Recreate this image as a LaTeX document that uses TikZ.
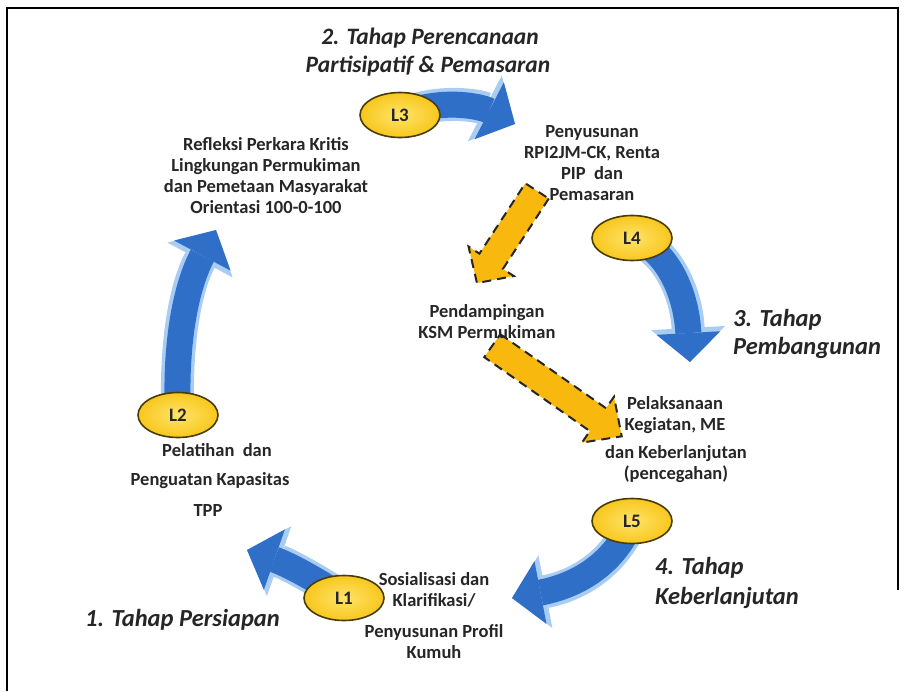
\documentclass[tikz,border=0pt]{standalone}
\usepackage{fontspec}
\setmainfont{Carlito}
\usetikzlibrary{arrows.meta,shapes.geometric}
\definecolor{bluemain}{HTML}{2F6FC8}
\definecolor{bluelight}{HTML}{A8CCF2}
\definecolor{goldfill}{HTML}{F7C71C}
\definecolor{goldin}{HTML}{FFE36A}
\definecolor{goldedge}{HTML}{4A3C05}
\definecolor{amber}{HTML}{F8B80E}
\definecolor{ink}{HTML}{262626}
\tikzset{
  lvl/.style={ellipse, minimum width=80pt, minimum height=45pt, inner sep=0pt,
    draw=goldedge, line width=1.6pt, inner color=goldin, outer color=goldfill,
    font=\bfseries\fontsize{19}{19}\selectfont, text=ink},
  lbl/.style={font=\bfseries\fontsize{18.5}{21}\selectfont, text=ink, align=center, inner sep=0pt},
  stage/.style={font=\bfseries\itshape\fontsize{24.5}{28}\selectfont, text=ink, inner sep=0pt},
  bandout/.style={line width=33pt, draw=bluelight,
    -{Triangle[width=74pt,length=34pt,line width=0pt]}},
  bandin/.style={line width=26pt, draw=bluemain,
    -{Triangle[width=64pt,length=29pt,line width=0pt]}},
  blockarrow/.style={fill=amber, draw=black!85, line width=2pt, dash pattern=on 9pt off 6pt},
}
% blue curved band arrow, drawn as a light rim and a darker core
\newcommand\bandarrow[1]{%
  \draw[bandout] #1;
  \draw[bandin] #1;
}
\begin{document}
\begin{tikzpicture}[x=1pt,y=-1pt]
\useasboundingbox (0,0) rectangle (907,691);
\fill[white] (0,0) rectangle (907,691);
% frame
\draw[line width=2.4pt] (7,691) -- (7,8) -- (898,8) -- (898,590);

% stage titles
\node[stage, font=\bfseries\itshape\fontsize{23.5}{28}\selectfont] (t2a) at (430,38) {2. Tahap Perencanaan};
\node[stage, font=\bfseries\itshape\fontsize{23.5}{28}\selectfont] (t2b) at (428,66) {Partisipatif \& Pemasaran};
\node[stage, anchor=west] (t3a) at (733,320) {3. Tahap};
\node[stage, anchor=west] (t3b) at (733,348) {Pembangunan};
\node[stage, anchor=west] (t4a) at (655,568) {4. Tahap};
\node[stage, anchor=west] (t4b) at (655,598) {Keberlanjutan};
\node[stage, anchor=west] (t1) at (85,620) {1. Tahap Persiapan};

% arrow end points
\coordinate (e3) at (515,124);
\coordinate (e4) at (690,362);
\coordinate (e5) at (512,598);
\coordinate (e1) at (247,550);
\coordinate (e2) at (216,230);

% level marker positions
\path (400,115) coordinate (c3) (632,238) coordinate (c4) (632,521) coordinate (c5)
      (344,598) coordinate (c1) (178,415) coordinate (c2);

% blue cycle bands
\bandarrow{(c3) .. controls (440,98) and (480,106) .. (e3)}
\bandarrow{(c4) .. controls (665,248) and (686,290) .. (e4)}
\bandarrow{(c5) .. controls (615,562) and (580,585) .. (e5)}
\bandarrow{(c1) .. controls (320,582) and (290,565) .. (e1)}
\bandarrow{(c2) .. controls (175,350) and (184,290) .. (e2)}

\node[lvl] (L3) at (c3) {L3};
\node[lvl] (L4) at (c4) {L4};
\node[lvl] (L5) at (c5) {L5};
\node[lvl] (L1) at (c1) {L1};
\node[lvl] (L2) at (c2) {L2};

% dashed block arrows
\begin{scope}[shift={(507,237)}, rotate=236.9]
  \draw[blockarrow] (-55,-14) -- (29,-14) -- (29,-27) -- (55,0) -- (29,27) -- (29,14) -- (-55,14) -- cycle;
\end{scope}
\begin{scope}[shift={(557,391)}, rotate=-35]
  \draw[blockarrow] (-79,-14) -- (50,-14) -- (50,-28) -- (79,0) -- (50,28) -- (50,14) -- (-79,14) -- cycle;
\end{scope}

% activity labels
\node[lbl] (refl) at (266,176) {Refleksi Perkara Kritis\\Lingkungan Permukiman\\dan Pemetaan Masyarakat\\Orientasi 100-0-100};
\node[lbl] (plan) at (592,163) {Penyusunan\\RPI2JM-CK, Renta\\PIP\ \ dan\\Pemasaran};
\node[lbl] (pend) at (487,322) {Pendampingan\\KSM Permukiman};
\node[lbl] (pelak) at (675,415) {Pelaksanaan\\Kegiatan, ME};
\node[lbl] (keb) at (676,464) {dan Keberlanjutan\\(pencegahan)};
\node[lbl] (pel1) at (217,450) {Pelatihan\ \ dan};
\node[lbl] (pel2) at (210,481) {Penguatan Kapasitas};
\node[lbl] (pel3) at (208,510) {TPP};
\node[lbl] (sos) at (434,590) {Sosialisasi dan\\Klarifikasi/};
\node[lbl] (prof) at (434,642) {Penyusunan Profil\\Kumuh};
\end{tikzpicture}
\end{document}
